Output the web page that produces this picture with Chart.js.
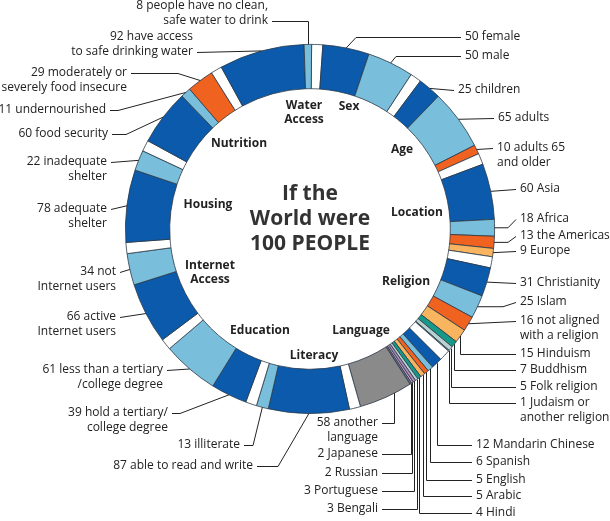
<!DOCTYPE html>
<html lang="en">
<head>
<meta charset="UTF-8">
<title>If the World were 100 People</title>
<script src="https://cdn.jsdelivr.net/npm/chart.js@4.4.0/dist/chart.umd.min.js"></script>
<style>
    body { margin: 0; background: #fff; }
    #wrap { width: 610px; height: 521px; }
</style>
</head>
<body>
<div id="wrap"><canvas id="world" width="610" height="521"></canvas></div>
<script>
// ---- data (clockwise from the top) ----
const groupNames = ['Sex', 'Age', 'Location', 'Religion', 'Language', 'Literacy', 'Education', 'Internet\nAccess', 'Housing', 'Nutrition', 'Water\nAccess'];

const sexValues = [50, 50];
const sexLabels = ['female', 'male'];
const ageValues = [25, 65, 10];
const ageLabels = ['children', 'adults', 'adults 65\nand older'];
const locationValues = [60, 18, 13, 9];
const locationLabels = ['Asia', 'Africa', 'the Americas', 'Europe'];
const religionValues = [31, 25, 16, 15, 7, 5, 1];
const religionLabels = ['Christianity', 'Islam', 'not aligned\nwith a religion', 'Hinduism', 'Buddhism', 'Folk religion', 'Judaism or\nanother religion'];
const languageValues = [12, 6, 5, 5, 4, 3, 3, 2, 2, 58];
const languageLabels = ['Mandarin Chinese', 'Spanish', 'English', 'Arabic', 'Hindi', 'Bengali', 'Portuguese', 'Russian', 'Japanese', 'another\nlanguage'];
const literacyValues = [87, 13];
const literacyLabels = ['able to read and write', 'illiterate'];
const educationValues = [39, 61];
const educationLabels = ['hold a tertiary/\ncollege degree', 'less than a tertiary\n/college degree'];
const internetValues = [66, 34];
const internetLabels = ['active\nInternet users', 'not\nInternet users'];
const housingValues = [78, 22];
const housingLabels = ['adequate\nshelter', 'inadequate\nshelter'];
const nutritionValues = [60, 11, 29];
const nutritionLabels = ['food security', 'undernourished', 'moderately or\nseverely food insecure'];
const waterValues = [92, 8];
const waterLabels = ['have access\nto safe drinking water', 'people have no clean,\nsafe water to drink'];

const groupValues = [sexValues, ageValues, locationValues, religionValues, languageValues, literacyValues, educationValues, internetValues, housingValues, nutritionValues, waterValues];
const groupLabels = [sexLabels, ageLabels, locationLabels, religionLabels, languageLabels, literacyLabels, educationLabels, internetLabels, housingLabels, nutritionLabels, waterLabels];

// ---- styles / layout ----
const GAP = 12;
const LINE_H = 15;
const DARK = '#0b5aab', LIGHT = '#79bfdb', ORANGE = '#f0621f', PEACH = '#f8b45f',
      TEAL = '#17998a', PALE = '#b8d2d2', GREY = '#8a8a8a';
const groupColors = [
    [DARK, LIGHT],
    [DARK, LIGHT, ORANGE],
    [DARK, LIGHT, ORANGE, PEACH],
    [DARK, LIGHT, ORANGE, PEACH, TEAL, PALE, '#7fb0ad'],
    [DARK, LIGHT, ORANGE, PEACH, TEAL, PALE, '#a88bbb', '#dca4c6', '#6f6f8f', GREY],
    [DARK, LIGHT],
    [DARK, LIGHT],
    [DARK, LIGHT],
    [DARK, LIGHT],
    [DARK, LIGHT, ORANGE],
    [DARK, LIGHT]
];

// callout text placement: al = r means right aligned; v = vertical leader,
// k = knee x on the text row, ka = knee x on the arc row, line = row the leader meets
const calloutPos = [
    [{x: 465, y: 37, k: 356}, {x: 465, y: 56, k: 396}],
    [{x: 458, y: 90}, {x: 498, y: 118}, {x: 497, y: 148}],
    [{x: 520, y: 189}, {x: 520, y: 219, ka: 508}, {x: 520, y: 236, ka: 508}, {x: 520, y: 251}],
    [{x: 520, y: 283}, {x: 520, y: 302, ka: 503}, {x: 520, y: 321}, {x: 520, y: 354, v: 1},
     {x: 520, y: 370, v: 1}, {x: 520, y: 387, v: 1}, {x: 520, y: 403, v: 1}],
    [{x: 476, y: 445, v: 1}, {x: 476, y: 462, v: 1}, {x: 476, y: 480, v: 1}, {x: 476, y: 496, v: 1},
     {x: 476, y: 513, v: 1}, {x: 378, y: 509, v: 1, al: 'r'}, {x: 378, y: 491, v: 1, al: 'r'},
     {x: 378, y: 473, v: 1, al: 'r'}, {x: 378, y: 454, v: 1, al: 'r'}, {x: 378, y: 423, v: 1, al: 'r', at: 0.33}],
    [{x: 253, y: 466, al: 'r', k: 278}, {x: 240, y: 445, al: 'r', k: 253}],
    [{x: 168, y: 413, al: 'r', k: 180}, {x: 163, y: 370, al: 'r'}],
    [{x: 116, y: 317, al: 'r'}, {x: 116, y: 272, al: 'r'}],
    [{x: 107, y: 209, al: 'r'}, {x: 107, y: 162, al: 'r'}],
    [{x: 108, y: 134, al: 'r', k: 126}, {x: 106, y: 110, al: 'r', k: 118}, {x: 127, y: 73, al: 'r', k: 178}],
    [{x: 193, y: 37, al: 'r', line: 1}, {x: 268, y: 6, al: 'r', line: 1, v: 1}]
];
const groupPos = [[349, 107], [402, 150], [417, 213], [406, 282], [361, 331], [314, 356], [260, 331], [210, 266], [208, 205], [239, 144], [304, 106]];
const titleLines = ['If the', 'World were', '100 PEOPLE'];

// ---- build the ring: a white gap segment before every group ----
const values = [], colors = [], names = [], callouts = [];
groupValues.forEach((vals, g) => {
    values.push(GAP); colors.push('#ffffff'); names.push(''); callouts.push(null);
    vals.forEach((v, i) => {
        values.push(v);
        colors.push(groupColors[g][i]);
        names.push(groupLabels[g][i].replace('\n', ' '));
        callouts.push({ lines: (v + ' ' + groupLabels[g][i]).split('\n'), pos: calloutPos[g][i] });
    });
});

const calloutPlugin = {
    id: 'callouts',
    afterDraw(chart) {
        const ctx = chart.ctx;
        const arcs = chart.getDatasetMeta(0).data;
        ctx.save();
        ctx.strokeStyle = '#222';
        ctx.fillStyle = '#222';
        ctx.lineWidth = 1;
        ctx.textBaseline = 'middle';
        ctx.font = '12px "Open Sans"';

        arcs.forEach((arc, i) => {
            const c = callouts[i];
            if (!c) return;
            const p = arc.getProps(['x', 'y', 'startAngle', 'endAngle', 'outerRadius'], true);
            const a = p.startAngle + (p.endAngle - p.startAngle) * (c.pos.at ?? 0.5);
            const ax = p.x + Math.cos(a) * p.outerRadius;
            const ay = p.y + Math.sin(a) * p.outerRadius;
            const right = c.pos.al === 'r';
            const ly = Math.round(c.pos.y + (c.pos.line || 0) * LINE_H) + 0.5;
            const ex = right ? c.pos.x + 4 : c.pos.x - 4;

            ctx.beginPath();
            if (c.pos.v) {
                const vx = Math.round(ax) + 0.5;
                ctx.moveTo(vx, ay);
                ctx.lineTo(vx, ly);
            } else {
                ctx.moveTo(ax, ay);
                if (c.pos.k) ctx.lineTo(c.pos.k, ly);
                else if (c.pos.ka) ctx.lineTo(c.pos.ka, ay);
            }
            ctx.lineTo(ex, ly);
            ctx.stroke();

            ctx.textAlign = right ? 'right' : 'left';
            c.lines.forEach((t, j) => ctx.fillText(t, c.pos.x, c.pos.y + j * LINE_H));
        });

        // group names inside the ring
        ctx.font = 'bold 12px "Open Sans"';
        ctx.textAlign = 'center';
        groupNames.forEach((n, g) => {
            n.split('\n').forEach((t, j) => ctx.fillText(t, groupPos[g][0], groupPos[g][1] + j * 14));
        });

        // centre title
        ctx.font = 'bold 21px "Open Sans"';
        ctx.fillStyle = '#333';
        const cx = arcs[0].x, cy = arcs[0].y;
        titleLines.forEach((t, j) => ctx.fillText(t, cx, cy - 35 + j * 25));
        ctx.restore();
    }
};

new Chart(document.getElementById('world'), {
    type: 'doughnut',
    data: {
        labels: names,
        datasets: [{
            data: values,
            backgroundColor: colors,
            borderColor: '#2b3848',
            borderWidth: 0.8,
            hoverOffset: 0
        }]
    },
    options: {
        responsive: false,
        animation: false,
        rotation: 0.5,
        cutout: '76%',
        layout: { padding: { left: 125, right: 115, top: 44, bottom: 107 } },
        plugins: {
            legend: { display: false },
            tooltip: { enabled: false }
        }
    },
    plugins: [calloutPlugin]
});
</script>
</body>
</html>
